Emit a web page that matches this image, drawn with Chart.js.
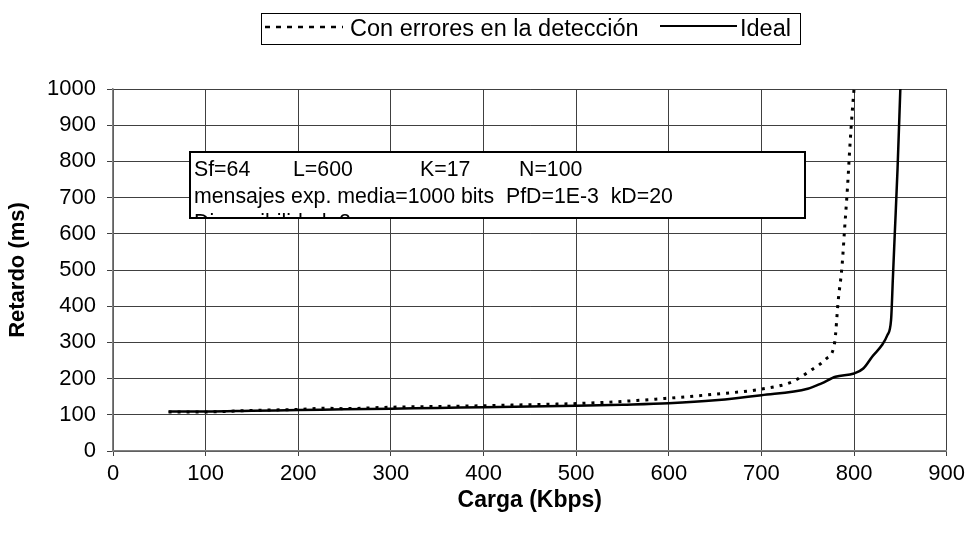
<!DOCTYPE html>
<html>
<head>
<meta charset="utf-8">
<script src="https://cdn.jsdelivr.net/npm/chart.js@4.4.1/dist/chart.umd.min.js"></script>
<style>
  html, body { margin: 0; padding: 0; background: #fff; }
  #wrap { width: 970px; height: 545px; position: relative; }
</style>
</head>
<body>
<div id="wrap"><canvas id="c" width="970" height="545"></canvas></div>
<script>
// Load (Kbps) and delay (ms) for each curve
const cargaErrores = [60, 100, 150, 200, 230, 250, 300, 350, 400, 450, 500, 550, 600, 650, 700, 733, 754, 770, 779, 783, 787, 790, 793, 795.5, 798, 800];
const retardoErrores = [108, 108, 112, 115, 118, 117, 121, 123, 125, 128, 131, 137, 146, 157, 171, 191, 224, 255, 298, 417, 509, 620, 730, 840, 934, 1000];

const cargaIdeal = [60, 100, 150, 200, 250, 300, 350, 400, 450, 500, 550, 600, 650, 700, 750, 765, 780, 800, 810, 820, 830, 836, 840, 842, 844, 847, 850];
const retardoIdeal = [109, 109, 111, 113, 115, 117, 119, 121, 123, 125, 128, 132, 140, 154, 172, 187, 205, 214, 228, 262, 292, 320, 362, 480, 600, 780, 1000];

const serieNombres = ['Con errores en la detección', 'Ideal'];
const xTicks = [0, 100, 200, 300, 400, 500, 600, 700, 800, 900];
const yTicks = [0, 100, 200, 300, 400, 500, 600, 700, 800, 900, 1000];

const parametros = [
  [['Sf=64', 0], ['L=600', 99], ['K=17', 226], ['N=100', 325]],
  [['mensajes exp. media=1000 bits  PfD=1E-3  kD=20', 0]],
  [['Disponibilidad=2', 0]]
];

const FONT = '"Liberation Sans", Arial, sans-serif';
const GRID = '#404040';

function puntos(xs, ys) { return xs.map((x, i) => ({ x: x, y: ys[i] })); }

// Legend drawn at the top inside a framed box
const leyenda = {
  id: 'leyenda',
  afterDraw(chart) {
    const ctx = chart.ctx;
    const ds = chart.data.datasets;
    ctx.save();
    ctx.strokeStyle = '#000';
    ctx.lineWidth = 1;
    ctx.strokeRect(261.5, 13.5, 539, 31);
    ctx.font = '23.5px ' + FONT;
    ctx.textBaseline = 'middle';
    ctx.fillStyle = '#000';
    const cy = 30;
    // dashed sample
    ctx.lineWidth = 2.5;
    ctx.setLineDash([5, 6]);
    ctx.beginPath(); ctx.moveTo(265, cy - 3); ctx.lineTo(343, cy - 3); ctx.stroke();
    ctx.setLineDash([]);
    ctx.fillText(ds[0].label, 350, cy);
    ctx.lineWidth = 2;
    ctx.beginPath(); ctx.moveTo(660, cy - 4); ctx.lineTo(737, cy - 4); ctx.stroke();
    ctx.fillText(ds[1].label, 740, cy);
    ctx.restore();
  }
};

// Parameter box over the plot area
const cuadro = {
  id: 'cuadro',
  afterDatasetsDraw(chart) {
    const ctx = chart.ctx;
    const bx = 190, by = 152, bw = 615, bh = 66;
    ctx.save();
    ctx.fillStyle = '#fff';
    ctx.fillRect(bx, by, bw, bh);
    ctx.beginPath();
    ctx.rect(bx, by, bw, bh);
    ctx.clip();
    ctx.fillStyle = '#000';
    ctx.font = '21.3px ' + FONT;
    ctx.textBaseline = 'alphabetic';
    parametros.forEach((linea, i) => {
      linea.forEach(([t, dx]) => ctx.fillText(t, 194 + dx, 176 + i * 26.7));
    });
    ctx.restore();
    ctx.save();
    ctx.strokeStyle = '#000';
    ctx.lineWidth = 2;
    ctx.strokeRect(bx, by, bw, bh);
    ctx.restore();
  }
};

new Chart(document.getElementById('c'), {
  type: 'line',
  data: {
    datasets: [
      {
        label: serieNombres[0],
        data: puntos(cargaErrores, retardoErrores),
        borderColor: '#000',
        borderWidth: 3,
        borderDash: [3, 6],
        borderCapStyle: 'butt',
        pointRadius: 0,
        cubicInterpolationMode: 'monotone',
        fill: false
      },
      {
        label: serieNombres[1],
        data: puntos(cargaIdeal, retardoIdeal),
        borderColor: '#000',
        borderWidth: 2.5,
        pointRadius: 0,
        cubicInterpolationMode: 'monotone',
        fill: false
      }
    ]
  },
  options: {
    responsive: false,
    animation: false,
    events: [],
    layout: { padding: { left: 0, top: 89, right: 22, bottom: 0 } },
    plugins: { legend: { display: false }, tooltip: { enabled: false } },
    scales: {
      x: {
        type: 'linear',
        min: 0, max: 900,
        afterBuildTicks: s => { s.ticks = xTicks.map(v => ({ value: v })); },
        afterFit: s => { s.height = 94; },
        grid: { color: GRID, lineWidth: 1, tickLength: 5, tickColor: GRID },
        border: { color: '#808080', width: 1.5 },
        ticks: { color: '#000', font: { family: FONT, size: 22 }, padding: 5, maxRotation: 0, callback: v => String(v) },
        title: { display: true, text: 'Carga (Kbps)', color: '#000', font: { family: FONT, size: 23, weight: 'bold' }, padding: { top: 0, bottom: 31 } }
      },
      y: {
        type: 'linear',
        min: 0, max: 1000,
        afterBuildTicks: s => { s.ticks = yTicks.map(v => ({ value: v })); },
        afterFit: s => { s.width = 113; },
        grid: { color: GRID, lineWidth: 1, tickLength: 6, tickColor: GRID },
        border: { color: '#808080', width: 1.5 },
        ticks: { color: '#000', font: { family: FONT, size: 22 }, padding: 11, callback: v => String(v) },
        title: { display: true, text: 'Retardo (ms)', color: '#000', font: { family: FONT, size: 22, weight: 'bold' }, padding: { top: 5, bottom: 0 } }
      }
    }
  },
  plugins: [cuadro, leyenda]
});
</script>
</body>
</html>
